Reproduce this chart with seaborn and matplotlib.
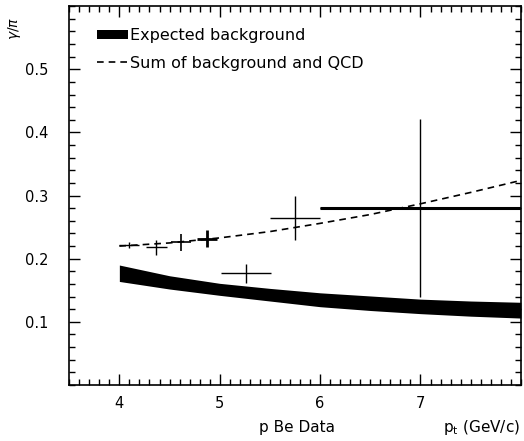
import numpy as np
import pandas as pd
import matplotlib
matplotlib.use("Agg")
import matplotlib.pyplot as plt
import seaborn as sns
from matplotlib.ticker import MultipleLocator

# data points (p Be)
pt = [4.10, 4.37, 4.61, 4.87, 5.26, 5.75, 7.00]
pt_err = [0.10, 0.10, 0.10, 0.10, 0.25, 0.25, 1.00]
ratio = [0.222, 0.218, 0.226, 0.232, 0.177, 0.264, 0.280]
ratio_err = [0.005, 0.012, 0.013, 0.013, 0.015, 0.035, 0.141]
widths = [1.0, 1.0, 1.2, 2.0, 1.0, 1.0, 1.0]

# expected background band
bg_pt = [4.0, 4.5, 5.0, 5.5, 6.0, 6.5, 7.0, 7.5, 8.0]
bg_hi = [0.190, 0.173, 0.161, 0.153, 0.146, 0.141, 0.136, 0.133, 0.131]
bg_lo = [0.164, 0.152, 0.142, 0.133, 0.124, 0.118, 0.113, 0.109, 0.106]

# background + QCD
qcd_pt = [4.0, 4.5, 5.0, 5.5, 6.0, 6.5, 7.0, 7.5, 8.0]
qcd = [0.220, 0.225, 0.233, 0.243, 0.256, 0.270, 0.287, 0.305, 0.324]

sns.set_style("ticks")
plt.rcParams["font.family"] = ["DejaVu Sans"]
plt.rcParams["text.color"] = "black"
plt.rcParams["xtick.color"] = "black"
plt.rcParams["ytick.color"] = "black"

fig = plt.figure(figsize=(5.24, 4.41), dpi=100)
ax = fig.add_axes([0.132, 0.127, 0.862, 0.859])

ax.fill_between(bg_pt, bg_lo, bg_hi, color="black", lw=0, label="Expected background")
sns.lineplot(x=qcd_pt, y=qcd, ax=ax, color="black", lw=1.2,
             linestyle=(0, (4, 3)), label="Sum of background and QCD")

for i in range(len(pt)):
    ax.errorbar(pt[i], ratio[i], xerr=pt_err[i], yerr=ratio_err[i], fmt="none",
                ecolor="black", elinewidth=widths[i], capsize=0)
# thick horizontal on the last bin
ax.errorbar(pt[-1], ratio[-1], xerr=pt_err[-1], fmt="none", ecolor="black",
            elinewidth=2.2, capsize=0)

ax.set_xlim(3.5, 8.0)
ax.set_ylim(0.0, 0.6)
ax.set_xticks([4, 5, 6, 7])
ax.set_yticks([0.1, 0.2, 0.3, 0.4, 0.5])
ax.xaxis.set_minor_locator(MultipleLocator(0.1))
ax.yaxis.set_minor_locator(MultipleLocator(0.02))
ax.tick_params(which="both", direction="in", top=True, right=True, labelsize=10.5)
ax.tick_params(which="major", length=8, width=1)
ax.tick_params(which="minor", length=4, width=1)
ax.tick_params(axis="y", which="major", pad=15)
ax.tick_params(axis="x", which="major", pad=8)
for s in ax.spines.values():
    s.set_linewidth(1.2)
    s.set_color("black")

ax.set_xlabel("")
ax.set_ylabel("")
fig.text(0.027, 0.935, r"$\gamma/\pi$", rotation=90, fontsize=10, ha="center", va="center")
fig.text(0.567, 0.03, "p Be Data", fontsize=11, ha="center", va="center")
fig.text(0.993, 0.03, r"p$_\mathregular{t}$ (GeV/c)", fontsize=11, ha="right", va="center")

leg = ax.legend(loc="upper left", bbox_to_anchor=(0.062, 0.943), frameon=False,
                fontsize=11.5, handlelength=1.9, handleheight=0.5, handletextpad=0.15,
                labelspacing=0.8, borderaxespad=0, borderpad=0)

fig.savefig("out.png", dpi=100)
